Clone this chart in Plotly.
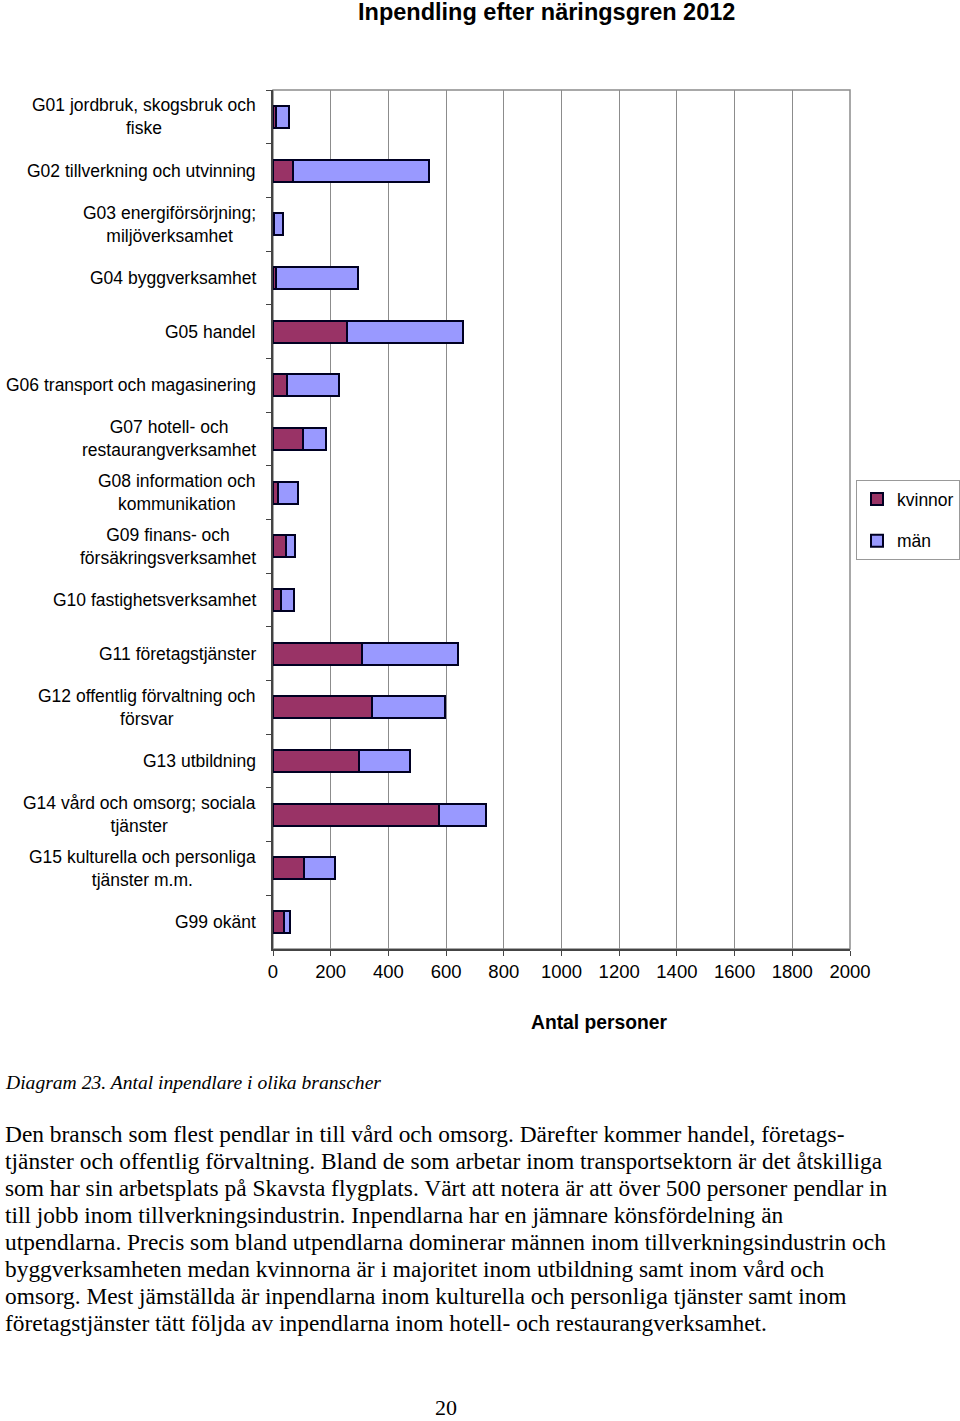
import plotly.graph_objects as go

categories = [
    "G01 jordbruk, skogsbruk och<br>fiske",
    "G02 tillverkning och utvinning",
    "G03 energiförsörjning;<br>miljöverksamhet",
    "G04 byggverksamhet",
    "G05 handel",
    "G06 transport och magasinering",
    "G07 hotell- och<br>restaurangverksamhet",
    "G08 information och<br>kommunikation",
    "G09 finans- och<br>försäkringsverksamhet",
    "G10 fastighetsverksamhet",
    "G11 företagstjänster",
    "G12 offentlig förvaltning och<br>försvar",
    "G13 utbildning",
    "G14 vård och omsorg; sociala<br>tjänster",
    "G15 kulturella och personliga<br>tjänster m.m.",
    "G99 okänt",
]
kvinnor = [10, 70, 2, 10, 255, 47, 105, 18, 45, 27, 310, 344, 297, 577, 109, 39]
man = [47, 471, 34, 283, 402, 181, 79, 68, 32, 46, 331, 253, 179, 162, 107, 20]
x_ticks = [0, 200, 400, 600, 800, 1000, 1200, 1400, 1600, 1800, 2000]

title = "Inpendling efter näringsgren 2012"
x_title = "Antal personer"
caption = "Diagram 23. Antal inpendlare i olika branscher"
paragraph = [
    "Den bransch som flest pendlar in till vård och omsorg. Därefter kommer handel, företags-",
    "tjänster och offentlig förvaltning. Bland de som arbetar inom transportsektorn är det åtskilliga",
    "som har sin arbetsplats på Skavsta flygplats. Värt att notera är att över 500 personer pendlar in",
    "till jobb inom tillverkningsindustrin. Inpendlarna har en jämnare könsfördelning än",
    "utpendlarna. Precis som bland utpendlarna dominerar männen inom tillverkningsindustrin och",
    "byggverksamheten medan kvinnorna är i majoritet inom utbildning samt inom vård och",
    "omsorg. Mest jämställda är inpendlarna inom kulturella och personliga tjänster samt inom",
    "företagstjänster tätt följda av inpendlarna inom hotell- och restaurangverksamhet.",
]
page_number = "20"

W, H = 960, 1421
L, R, T, B = 273, 850, 90, 949

fig = go.Figure()
fig.add_trace(go.Bar(y=categories, x=kvinnor, name="kvinnor", orientation="h", legendgroup="k",
                     marker=dict(color="#993366", line=dict(color="#000022", width=2))))
fig.add_trace(go.Bar(y=categories, x=man, name="män", orientation="h", legendgroup="m",
                     marker=dict(color="#9999FF", line=dict(color="#000022", width=2))))

sans = "Liberation Sans, Arial, sans-serif"
serif = "Liberation Serif, Times New Roman, serif"


def ypaper(py):
    return (B - py) / (B - T)


def xpaper(px):
    return (px - L) / (R - L)


fig.update_layout(
    width=W, height=H,
    margin=dict(l=L, r=W - R, t=T, b=H - B, autoexpand=False),
    barmode="stack", bargap=0.59,
    plot_bgcolor="white", paper_bgcolor="white",
    showlegend=True,
    legend=dict(x=xpaper(856), xanchor="left", y=ypaper(480), yanchor="top",
                bordercolor="#999999", borderwidth=1, font=dict(family=sans, size=17.5, color="black"),
                tracegroupgap=16, itemwidth=30, traceorder="grouped"),
    font=dict(family=sans, color="black"),
)
fig.update_xaxes(range=[0, 2000], tickvals=x_ticks, ticks="outside", ticklen=5, tickcolor="#444",
                 showgrid=True, gridcolor="#8c8c8c", gridwidth=1,
                 showline=True, linecolor="#444", linewidth=1.5,
                 tickfont=dict(family=sans, size=18.5, color="black"), zeroline=False, fixedrange=True)
fig.update_yaxes(categoryorder="array", categoryarray=categories, autorange="reversed",
                 showticklabels=False, ticks="outside", tickson="boundaries", ticklen=5, tickcolor="#444",
                 showline=True, linecolor="#444", linewidth=1.5, showgrid=False, fixedrange=True)

# plot area border (top/right)
fig.add_shape(type="rect", xref="paper", yref="paper", x0=0, x1=1, y0=0, y1=1,
              line=dict(color="#8c8c8c", width=1.5), layer="below")

# category labels (centered multi-line, right anchored)
for c in categories:
    fig.add_annotation(x=0, xref="paper", y=c, yref="y", text=c, showarrow=False,
                       xanchor="right", align="center", xshift=-15,
                       font=dict(family=sans, size=17.5, color="black"))

fig.add_annotation(x=xpaper(546), y=ypaper(12), xref="paper", yref="paper", text="<b>" + title + "</b>",
                   showarrow=False, xanchor="center", yanchor="middle",
                   font=dict(family=sans, size=23.5, color="black"))
fig.add_annotation(x=xpaper(599), y=ypaper(1022), xref="paper", yref="paper", text="<b>" + x_title + "</b>",
                   showarrow=False, xanchor="center", yanchor="middle",
                   font=dict(family=sans, size=19.3, color="black"))
fig.add_annotation(x=xpaper(3), y=ypaper(1082), xref="paper", yref="paper", text="<i>" + caption + "</i>",
                   showarrow=False, xanchor="left", yanchor="middle",
                   font=dict(family=serif, size=19.6, color="black"))
for i, line in enumerate(paragraph):
    fig.add_annotation(x=xpaper(3), y=ypaper(1134 + 27 * i), xref="paper", yref="paper", text=line,
                       showarrow=False, xanchor="left", yanchor="middle",
                       font=dict(family=serif, size=23.4, color="black"))
fig.add_annotation(x=xpaper(446), y=ypaper(1407), xref="paper", yref="paper", text=page_number,
                   showarrow=False, xanchor="center", yanchor="middle",
                   font=dict(family=serif, size=22, color="black"))

fig.write_html("out.html", config={"displayModeBar": False},
               post_script="document.body.style.margin='0';")
